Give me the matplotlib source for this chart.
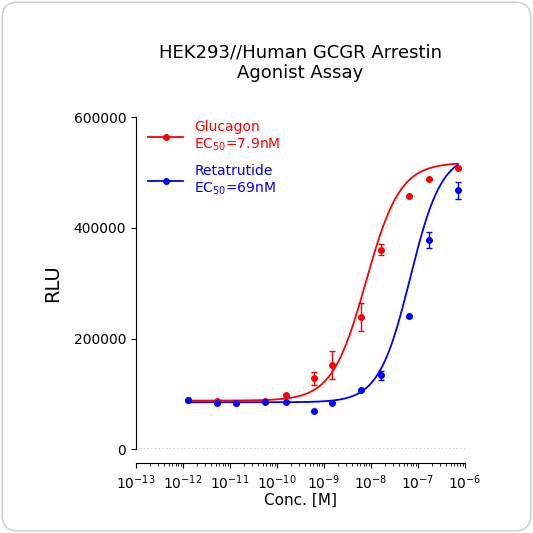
import numpy as np
import matplotlib
matplotlib.use("Agg")
import matplotlib.pyplot as plt
from matplotlib.patches import FancyBboxPatch

logx = [-11.89, -11.28, -10.87, -10.26, -9.81, -9.21, -8.83, -8.21, -7.79, -7.19, -6.77, -6.15]
glu_y = [90000, 87000, 84000, 87000, 98000, 128000, 152000, 239000, 361000, 457000, 488000, 508000]
glu_err = [0, 0, 0, 0, 0, 12000, 25000, 25000, 10000, 0, 0, 0]
ret_y = [89000, 83000, 83000, 85000, 85000, 70000, 83000, 107000, 134000, 240000, 378000, 468000]
ret_err = [0, 0, 0, 0, 0, 0, 0, 0, 8000, 0, 15000, 15000]
glu_fit = dict(bottom=88000, top=518000, ec50=7.9e-9, hill=1.2)
ret_fit = dict(bottom=85000, top=535000, ec50=69e-9, hill=1.3)

def fpl(x, p):
    return p['bottom'] + (p['top']-p['bottom'])/(1+(p['ec50']/x)**p['hill'])

fig = plt.figure(figsize=(5.33, 5.33), dpi=100)
border = FancyBboxPatch((0.004, 0.004), 0.992, 0.992, boxstyle="round,pad=0,rounding_size=0.03",
                        transform=fig.transFigure, fc='white', ec='#cccccc', lw=1, zorder=-10)
fig.patches.append(border)
ax = fig.add_axes([0.255, 0.157, 0.617, 0.623])
ax.set_zorder(1)
ax.patch.set_alpha(0)
ax.set_xscale('log')
ax.set_xlim(1e-13, 1e-6)
ax.set_ylim(0, 600000)
x = np.array([10**v for v in logx])
xs = np.logspace(np.log10(x[0]), np.log10(x[-1]), 300)
ax.plot(xs, fpl(xs, glu_fit), color='#ff0000', lw=1.3)
ax.plot(xs, fpl(xs, ret_fit), color='#0000ff', lw=1.3)
ax.errorbar(x, glu_y, yerr=glu_err, fmt='o', color='#ff0000', ms=4, capsize=2, elinewidth=1)
ax.errorbar(x, ret_y, yerr=ret_err, fmt='o', color='#0000ff', ms=4, capsize=2, elinewidth=1)
ax.axhline(0, color='black', ls=':', lw=1)
for s in ['top', 'right']:
    ax.spines[s].set_visible(False)
ax.spines['bottom'].set_position(('outward', 10))
ax.set_yticks([0, 200000, 400000, 600000])
ax.set_xticks([10.0**k for k in range(-13, -5)])
ax.tick_params(labelsize=10)
ax.set_xlabel('Conc. [M]', fontsize=11, labelpad=1)
ax.set_ylabel('RLU', fontsize=14, labelpad=8)
ax.set_title('HEK293//Human GCGR Arrestin\nAgonist Assay', fontsize=13, pad=28)
h1, = ax.plot([], [], 'o-', color='#ff0000', ms=4, lw=1.3)
h2, = ax.plot([], [], 'o-', color='#0000ff', ms=4, lw=1.3)
leg = ax.legend([h1, h2], ['Glucagon\nEC$_{50}$=7.9nM', 'Retatrutide\nEC$_{50}$=69nM'],
                loc='upper left', bbox_to_anchor=(0.0, 1.03), frameon=False, fontsize=10,
                handlelength=2.5, labelspacing=0.8)
for t, c in zip(leg.get_texts(), ['#ff0000', '#0000ff']):
    t.set_color(c)
fig.savefig('out.png', dpi=100)
